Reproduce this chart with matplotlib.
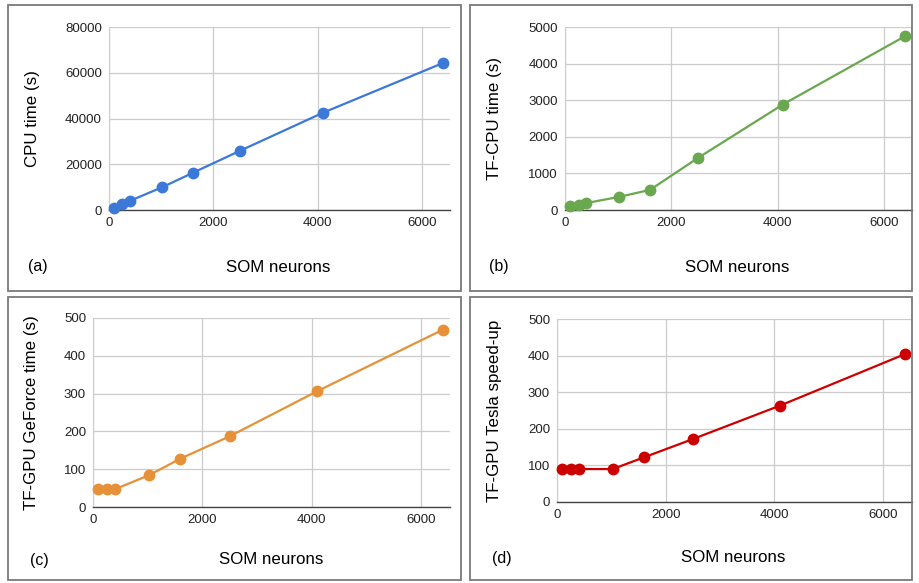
import matplotlib
matplotlib.use('Agg')
import matplotlib.pyplot as plt
from matplotlib.patches import Rectangle

plt.rcParams['font.family'] = ['Liberation Sans', 'DejaVu Sans']

# SOM sizes (10x10 ... 80x80)
neurons = [100, 256, 400, 1024, 1600, 2500, 4096, 6400]

cpu_time = [1000, 2600, 4000, 10000, 16200, 25800, 42500, 64300]
tf_cpu_time = [100, 130, 190, 360, 550, 1420, 2880, 4750]
tf_gpu_geforce = [47, 47, 47, 84, 128, 187, 306, 469]
tf_gpu_tesla_speedup = [90, 90, 90, 90, 122, 172, 263, 404]

panels = [
    # data, ylabel, colour, yticks, letter
    (cpu_time, 'CPU time (s)', '#3c78d8', [0, 20000, 40000, 60000, 80000], '(a)'),
    (tf_cpu_time, 'TF-CPU time (s)', '#6aa84f', [0, 1000, 2000, 3000, 4000, 5000], '(b)'),
    (tf_gpu_geforce, 'TF-GPU GeForce time (s)', '#e69138', [0, 100, 200, 300, 400, 500], '(c)'),
    (tf_gpu_tesla_speedup, 'TF-GPU Tesla speed-up', '#cc0000', [0, 100, 200, 300, 400, 500], '(d)'),
]

W, H = 919, 583
fig = plt.figure(figsize=(W / 100, H / 100), dpi=100)

# axes boxes in pixels: left, top, right, bottom
ax_px = [(109, 27, 450, 210), (565, 27, 912, 210), (93, 318, 450, 507), (557, 319, 912, 502)]
# panel frame boxes in pixels
frame_px = [(8, 5, 461, 291), (470, 5, 912, 291), (8, 297, 461, 580), (470, 297, 912, 580)]
ylab_x = [33, 495, 32, 495]
xlab_pos = [(278, 267), (737, 267), (271, 560), (733, 558)]
letter_pos = [(38, 267), (499, 267), (39, 560), (502, 558)]

for (x0, y0, x1, y1) in frame_px:
    fig.patches.append(Rectangle((x0 / W, 1 - y1 / H), (x1 - x0) / W, (y1 - y0) / H,
                                 transform=fig.transFigure, fill=False,
                                 edgecolor='#7a7a7a', linewidth=1.3))

for i, (vals, ylab, col, yt, letter) in enumerate(panels):
    l, t, r, b = ax_px[i]
    ax = fig.add_axes([l / W, 1 - b / H, (r - l) / W, (b - t) / H])
    ax.plot(neurons, vals, color=col, lw=1.6, marker='o', ms=7.5, zorder=3, clip_on=False)
    ax.set_xlim(0, 6530)
    ax.set_ylim(yt[0], yt[-1])
    ax.set_xticks([0, 2000, 4000, 6000])
    ax.set_yticks(yt)
    ax.grid(True, color='#cccccc', lw=0.9)
    ax.set_axisbelow(True)
    for s in ['top', 'right']:
        ax.spines[s].set_visible(False)
    ax.spines['left'].set_color('#cccccc')
    ax.spines['bottom'].set_color('#444444')
    ax.spines['bottom'].set_linewidth(1.0)
    ax.tick_params(length=0, labelsize=9.5, colors='#222222', pad=5)
    fig.text(ylab_x[i] / W, 1 - ((t + b) / 2) / H, ylab, rotation=90, ha='center', va='center',
             fontsize=12.2)
    fig.text(xlab_pos[i][0] / W, 1 - xlab_pos[i][1] / H, 'SOM neurons', ha='center', va='center',
             fontsize=12.2)
    fig.text(letter_pos[i][0] / W, 1 - letter_pos[i][1] / H, letter, ha='center', va='center',
             fontsize=11.5)

fig.savefig('out.png', dpi=100)
